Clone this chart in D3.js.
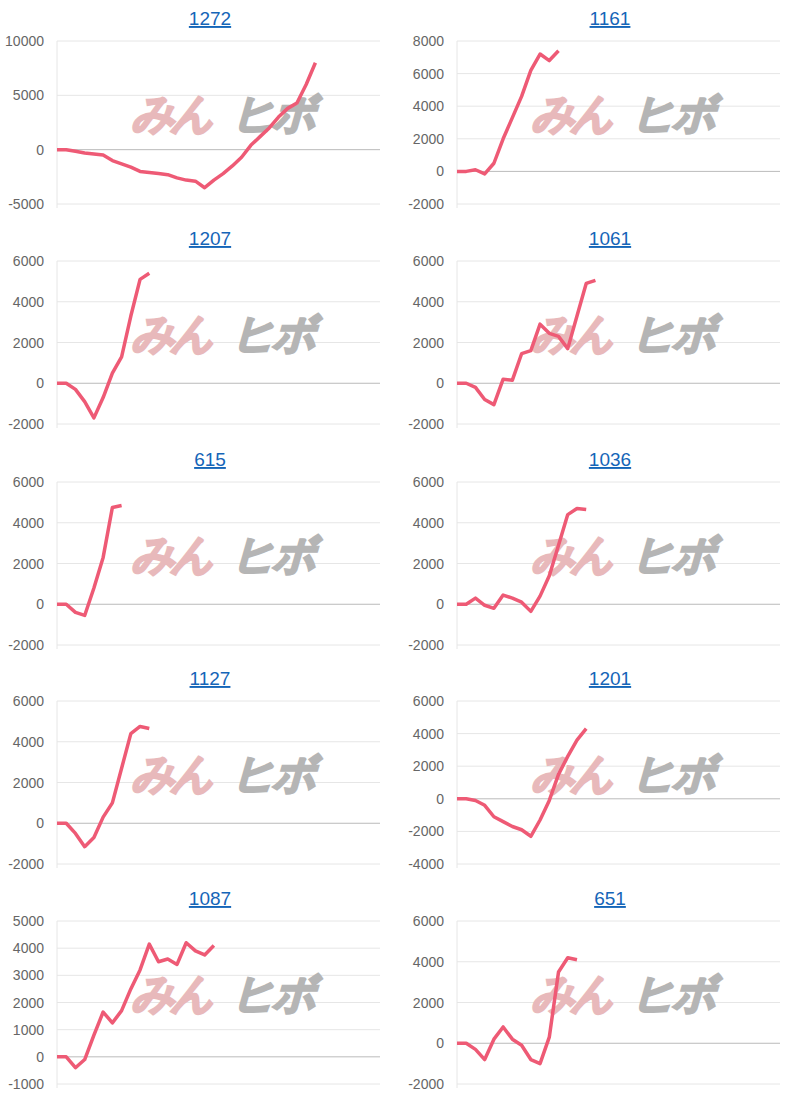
<!DOCTYPE html>
<html>
  <head>
    <meta charset="UTF-8" />
    <style>
      body { margin: 0; background: #fff; }
      text { font-family: 'Liberation Sans', Arial, sans-serif; }
    </style>
  </head>
  <body>
    <svg></svg>
    <script src="https://d3js.org/d3.v7.min.js"></script>
    <script>
      let width = 796,
        height = 1100

      // chart titles, in grid order (left, right per row)
      let titles = ['1272', '1161', '1207', '1061', '615', '1036', '1127', '1201', '1087', '651']

      let s1272 = [0, 0, -150, -300, -400, -500, -1000, -1300, -1600, -2000, -2100, -2200, -2300, -2600, -2800, -2900, -3500, -2800, -2200, -1500, -700, 400, 1200, 2000, 3000, 3800, 4300, 6000, 8000]
      let s1161 = [0, 0, 100, -150, 500, 2000, 3300, 4600, 6200, 7200, 6800, 7400]
      let s1207 = [0, 0, -300, -900, -1700, -700, 500, 1300, 3300, 5100, 5400]
      let s1061 = [0, 0, -200, -800, -1050, 200, 150, 1450, 1600, 2900, 2450, 2300, 1700, 3300, 4900, 5050]
      let s615 = [0, 0, -400, -550, 800, 2300, 4750, 4850]
      let s1036 = [0, 0, 300, -50, -200, 450, 300, 100, -350, 400, 1400, 2900, 4400, 4700, 4650]
      let s1127 = [0, 0, -500, -1150, -700, 300, 1000, 2700, 4400, 4750, 4650]
      let s1201 = [0, 0, -100, -400, -1100, -1400, -1700, -1900, -2300, -1300, -100, 1500, 2600, 3600, 4300]
      let s1087 = [0, 0, -400, -100, 800, 1650, 1250, 1700, 2500, 3200, 4150, 3500, 3600, 3400, 4200, 3900, 3750, 4100]
      let s651 = [0, 0, -300, -800, 200, 800, 200, -100, -800, -1000, 300, 3500, 4200, 4100]

      let series = [s1272, s1161, s1207, s1061, s615, s1036, s1127, s1201, s1087, s651]

      // y domains and tick steps
      let yDomains = [[-5000, 10000], [-2000, 8000], [-2000, 6000], [-2000, 6000], [-2000, 6000], [-2000, 6000], [-2000, 6000], [-4000, 6000], [-1000, 5000], [-2000, 6000]]
      let ySteps = [5000, 2000, 2000, 2000, 2000, 2000, 2000, 2000, 1000, 2000]

      let rowTops = [0, 220, 441, 660, 880]

      let svg = d3.select('svg').attr('width', width).attr('height', height)

      titles.forEach((t, i) => {
        let col = i % 2,
          row = Math.floor(i / 2)
        let x0 = col == 0 ? 57 : 457
        let top = rowTops[row]
        let g = svg.append('g')

        let x = d3.scaleLinear().domain([0, 35]).range([x0, x0 + 323])
        let y = d3.scaleLinear().domain(yDomains[i]).range([top + 204, top + 41])
        let ticks = d3.range(yDomains[i][0], yDomains[i][1] + 1, ySteps[i])

        // title
        g.append('text')
          .attr('x', x0 + 153)
          .attr('y', top + 25)
          .attr('text-anchor', 'middle')
          .attr('font-size', 19)
          .attr('fill', '#1565b8')
          .attr('text-decoration', 'underline')
          .text(t)

        // gridlines
        g.selectAll('line.grid')
          .data(ticks)
          .enter()
          .append('line')
          .attr('x1', x0)
          .attr('x2', x0 + 323)
          .attr('y1', (d) => y(d))
          .attr('y2', (d) => y(d))
          .attr('stroke', (d) => (d == 0 ? '#bbbbbb' : '#e6e6e6'))
          .attr('stroke-width', 1)

        g.append('line')
          .attr('x1', x0).attr('x2', x0)
          .attr('y1', top + 41).attr('y2', top + 208)
          .attr('stroke', '#e6e6e6')

        // y labels
        g.selectAll('text.tick')
          .data(ticks)
          .enter()
          .append('text')
          .attr('x', x0 - 13)
          .attr('y', (d) => y(d) + 5)
          .attr('text-anchor', 'end')
          .attr('font-size', 14)
          .attr('fill', '#666')
          .text((d) => d)

        // watermark
        let wm = g.append('g').attr('transform', 'translate(' + (x0 + 75) + ',' + (top + 128) + ') skewX(-16)')
        wm.append('text')
          .attr('font-size', 42)
          .attr('font-family', 'Noto Sans CJK JP')
          .attr('fill', '#e8b9bb')
          .attr('stroke', '#e8b9bb')
          .attr('stroke-width', 4)
          .attr('letter-spacing', -4)
          .text('みん')
        wm.append('text')
          .attr('x', 100)
          .attr('font-size', 42)
          .attr('font-family', 'Noto Sans CJK JP')
          .attr('fill', '#b5b5b5')
          .attr('stroke', '#b5b5b5')
          .attr('stroke-width', 4)
          .attr('letter-spacing', -2)
          .text('ヒボ')

        // line
        let line = d3.line().x((d, j) => x(j)).y((d) => y(d))
        g.append('path')
          .datum(series[i])
          .attr('d', line)
          .attr('fill', 'none')
          .attr('stroke', '#ee5a75')
          .attr('stroke-width', 3.5)
          .attr('stroke-linejoin', 'round')
      })
    </script>
  </body>
</html>
